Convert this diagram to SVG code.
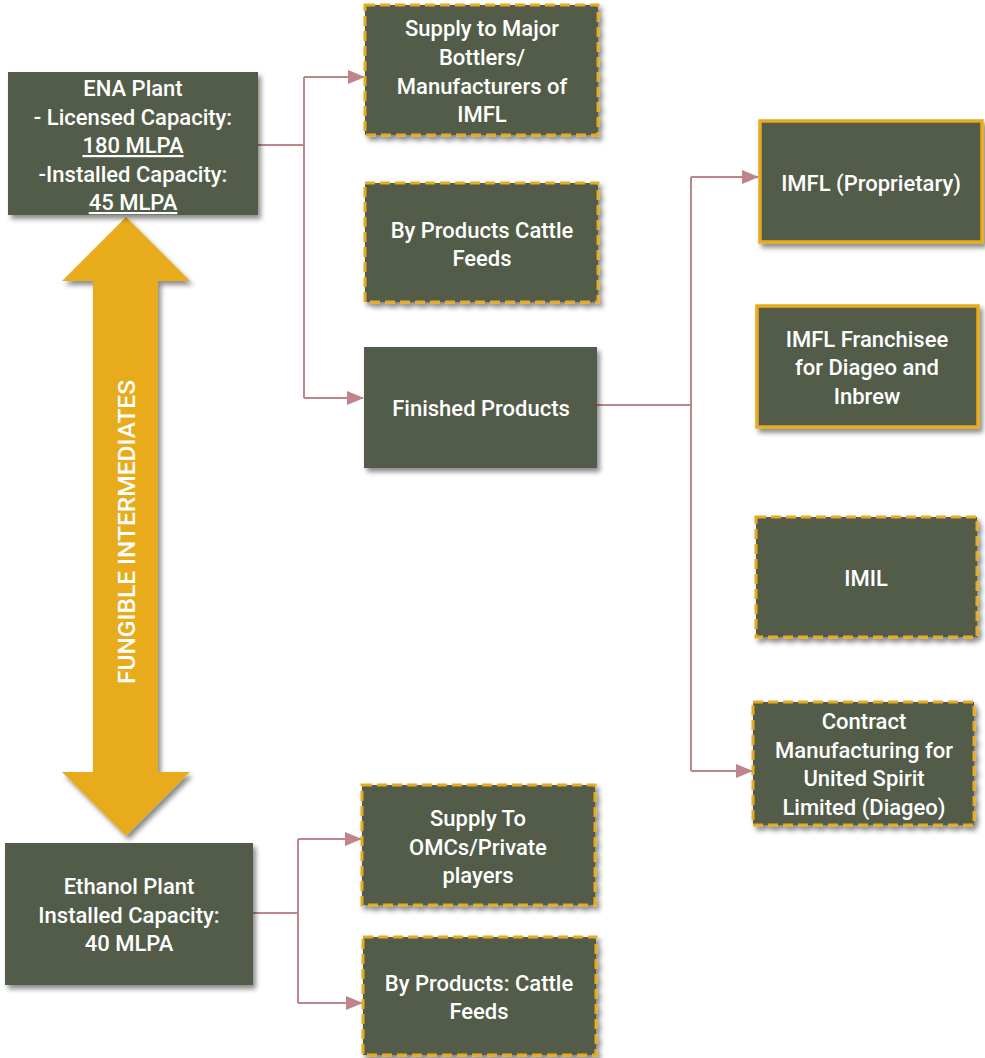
<svg xmlns="http://www.w3.org/2000/svg" width="985" height="1058" viewBox="0 0 985 1058">
<defs>
<filter id="sh" x="-10%" y="-10%" width="125%" height="130%">
<feDropShadow dx="3" dy="4" stdDeviation="2.5" flood-color="#000" flood-opacity="0.45"/>
</filter>
<marker id="ah" markerWidth="17" markerHeight="14" refX="16" refY="7" orient="auto" markerUnits="userSpaceOnUse">
<path d="M0,0 L17,7 L0,14 Z" fill="#BF858A"/>
</marker>
<style>
.box{fill:#525B4A;filter:url(#sh);}
.dash{stroke:#E8AB1F;stroke-width:3;stroke-dasharray:10 5;}
.solid{stroke:#E8AB1F;stroke-width:3.5;}
.t{font-family:Roboto,"Liberation Sans",Arial,sans-serif;font-weight:500;font-size:22px;fill:#fff;text-anchor:middle;}
.u{text-decoration:underline;}
.c{fill:none;stroke:#BF858A;stroke-width:2;}
</style>
</defs>
<rect width="985" height="1058" fill="#fff"/>

<g id="arrow-fungible">
<path d="M126,217 L190,281 L158,281 L158,772 L190,772 L126,836 L62,772 L93,772 L93,281 L62,281 Z" fill="#E8AB1F" filter="url(#sh)"/>
<text class="t" style="font-size:24.5px" transform="translate(135,532) rotate(-90)">FUNGIBLE INTERMEDIATES</text>
</g>

<g id="connectors">
<path class="c" d="M258,145 H304"/>
<path class="c" d="M304,77 V398"/>
<path class="c" d="M304,77 H364" marker-end="url(#ah)"/>
<path class="c" d="M304,398 H363" marker-end="url(#ah)"/>
<path class="c" d="M597,405 H691"/>
<path class="c" d="M691,177 V771"/>
<path class="c" d="M691,177 H758" marker-end="url(#ah)"/>
<path class="c" d="M691,771 H752" marker-end="url(#ah)"/>
<path class="c" d="M253,913 H298"/>
<path class="c" d="M298,839 V1003"/>
<path class="c" d="M298,839 H361" marker-end="url(#ah)"/>
<path class="c" d="M298,1003 H362" marker-end="url(#ah)"/>
</g>

<g id="ena">
<rect class="box" x="8" y="72" width="250" height="143"/>
<text class="t" x="133" y="96">ENA Plant</text>
<text class="t" x="133" y="125">- Licensed Capacity:</text>
<text class="t u" x="133" y="153">180 MLPA</text>
<text class="t" x="133" y="182">-Installed Capacity:</text>
<text class="t u" x="133" y="210">45 MLPA</text>
</g>

<g id="supply-bottlers">
<rect class="box dash" x="365" y="5" width="233" height="130"/>
<text class="t" x="482" y="36">Supply to Major</text>
<text class="t" x="482" y="65">Bottlers/</text>
<text class="t" x="482" y="94">Manufacturers of</text>
<text class="t" x="482" y="122">IMFL</text>
</g>

<g id="byproducts-1">
<rect class="box dash" x="365" y="183" width="233" height="119"/>
<text class="t" x="482" y="238">By Products Cattle</text>
<text class="t" x="482" y="266">Feeds</text>
</g>

<g id="finished">
<rect class="box" x="364" y="347" width="233" height="121"/>
<text class="t" x="481" y="416">Finished Products</text>
</g>

<g id="imfl-proprietary">
<rect class="box solid" x="760" y="121" width="222" height="121"/>
<text class="t" x="871" y="191">IMFL (Proprietary)</text>
</g>

<g id="imfl-franchisee">
<rect class="box solid" x="757" y="306" width="221" height="121"/>
<text class="t" x="867" y="347">IMFL Franchisee</text>
<text class="t" x="867" y="375">for Diageo and</text>
<text class="t" x="867" y="404">Inbrew</text>
</g>

<g id="imil">
<rect class="box dash" x="756" y="517" width="221" height="120"/>
<text class="t" x="866" y="586">IMIL</text>
</g>

<g id="contract">
<rect class="box dash" x="753" y="702" width="221" height="123"/>
<text class="t" x="864" y="729">Contract</text>
<text class="t" x="864" y="758">Manufacturing for</text>
<text class="t" x="864" y="786">United Spirit</text>
<text class="t" x="864" y="815">Limited (Diageo)</text>
</g>

<g id="ethanol">
<rect class="box" x="5" y="843" width="248" height="142"/>
<text class="t" x="129" y="894">Ethanol Plant</text>
<text class="t" x="129" y="923">Installed Capacity:</text>
<text class="t" x="129" y="951">40 MLPA</text>
</g>

<g id="supply-omcs">
<rect class="box dash" x="362" y="785" width="233" height="120"/>
<text class="t" x="478" y="826">Supply To</text>
<text class="t" x="478" y="855">OMCs/Private</text>
<text class="t" x="478" y="883">players</text>
</g>

<g id="byproducts-2">
<rect class="box dash" x="363" y="937" width="233" height="118"/>
<text class="t" x="479" y="991">By Products: Cattle</text>
<text class="t" x="479" y="1019">Feeds</text>
</g>
</svg>
